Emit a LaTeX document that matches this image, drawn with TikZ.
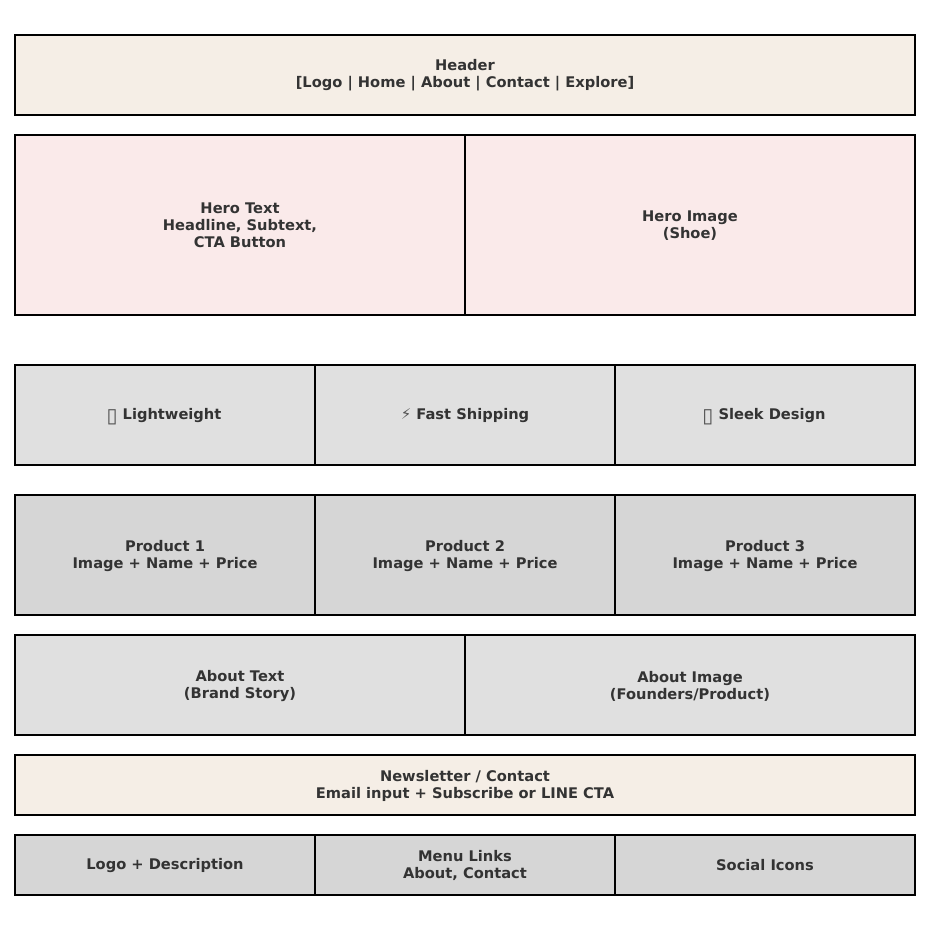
\documentclass[tikz,border=0pt]{standalone}
\usepackage{fontspec}
\setmainfont{DejaVu Sans}
\newfontfamily\symfont{DejaVu Sans}
\definecolor{creamc}{HTML}{F5EEE6}
\definecolor{pinkc}{HTML}{FAEAEA}
\definecolor{lightg}{HTML}{E0E0E0}
\definecolor{midg}{HTML}{D6D6D6}
\definecolor{inkc}{HTML}{333333}
\tikzset{
  cell/.style={draw=black,line width=1.6pt,inner sep=0pt,outer sep=0pt,anchor=north west},
  w1/.style={minimum width=900pt},
  w2/.style={minimum width=450pt},
  w3/.style={minimum width=300pt},
  h/.style={minimum height=#1pt},
  lab/.style={inner sep=0pt,outer sep=0pt,align=center,text=inkc,yshift=-#1pt,
    font=\fontsize{14.65}{17}\selectfont\bfseries}
}
\newcommand{\tofu}{\smash{\raisebox{-2.5pt}{\symfont\mdseries\fontsize{20}{17}\selectfont\textcolor{inkc!85}{\char"25AF}}}}
\newcommand{\bolt}{\smash{{\symfont\mdseries\fontsize{15}{17}\selectfont\textcolor{inkc!85}{\char"26A1}}}}
\begin{document}
\begin{tikzpicture}[x=1pt,y=-1pt]
\useasboundingbox (0,0) rectangle (929,932);
\node[cell,w1,h=80,fill=creamc,label={[lab=0.5]center:{Header\\{[Logo | Home | About | Contact | Explore]}}}] (header) at (15,35) {};
\node[cell,w2,h=180,fill=pinkc,label={[lab=0.3]center:{Hero Text\\Headline, Subtext,\\CTA Button}}] (herotext) at (15,135) {};
\node[cell,w2,h=180,fill=pinkc,label={[lab=1]center:{Hero Image\\(Shoe)}}] (heroimg) at (465,135) {};
\node[cell,w3,h=100,fill=lightg,label={[lab=1]center:{\tofu\ Lightweight\kern2pt}}] (f1) at (15,365) {};
\node[cell,w3,h=100,fill=lightg,label={[lab=1]center:{\bolt\ Fast Shipping}}] (f2) at (315,365) {};
\node[cell,w3,h=100,fill=lightg,label={[lab=1]center:{\tofu\ Sleek Design\kern2pt}}] (f3) at (615,365) {};
\node[cell,w3,h=120,fill=midg,label={[lab=1.5]center:{Product 1\\Image + Name + Price}}] (p1) at (15,495) {};
\node[cell,w3,h=120,fill=midg,label={[lab=1.5]center:{Product 2\\Image + Name + Price}}] (p2) at (315,495) {};
\node[cell,w3,h=120,fill=midg,label={[lab=1.5]center:{Product 3\\Image + Name + Price}}] (p3) at (615,495) {};
\node[cell,w2,h=100,fill=lightg,label={[lab=1]center:{About Text\\(Brand Story)}}] (abt) at (15,635) {};
\node[cell,w2,h=100,fill=lightg,label={[lab=1]center:{About Image\\(Founders/Product)}}] (abi) at (465,635) {};
\node[cell,w1,h=60,fill=creamc,label={[lab=1]center:{Newsletter / Contact\\Email input + Subscribe or LINE CTA}}] (news) at (15,755) {};
\node[cell,w3,h=60,fill=midg,label={[lab=1]center:{Logo + Description}}] (fa) at (15,835) {};
\node[cell,w3,h=60,fill=midg,label={[lab=0.3]center:{Menu Links\\About, Contact}}] (fb) at (315,835) {};
\node[cell,w3,h=60,fill=midg,label={[lab=0]center:{Social Icons}}] (fc) at (615,835) {};
\end{tikzpicture}
\end{document}
